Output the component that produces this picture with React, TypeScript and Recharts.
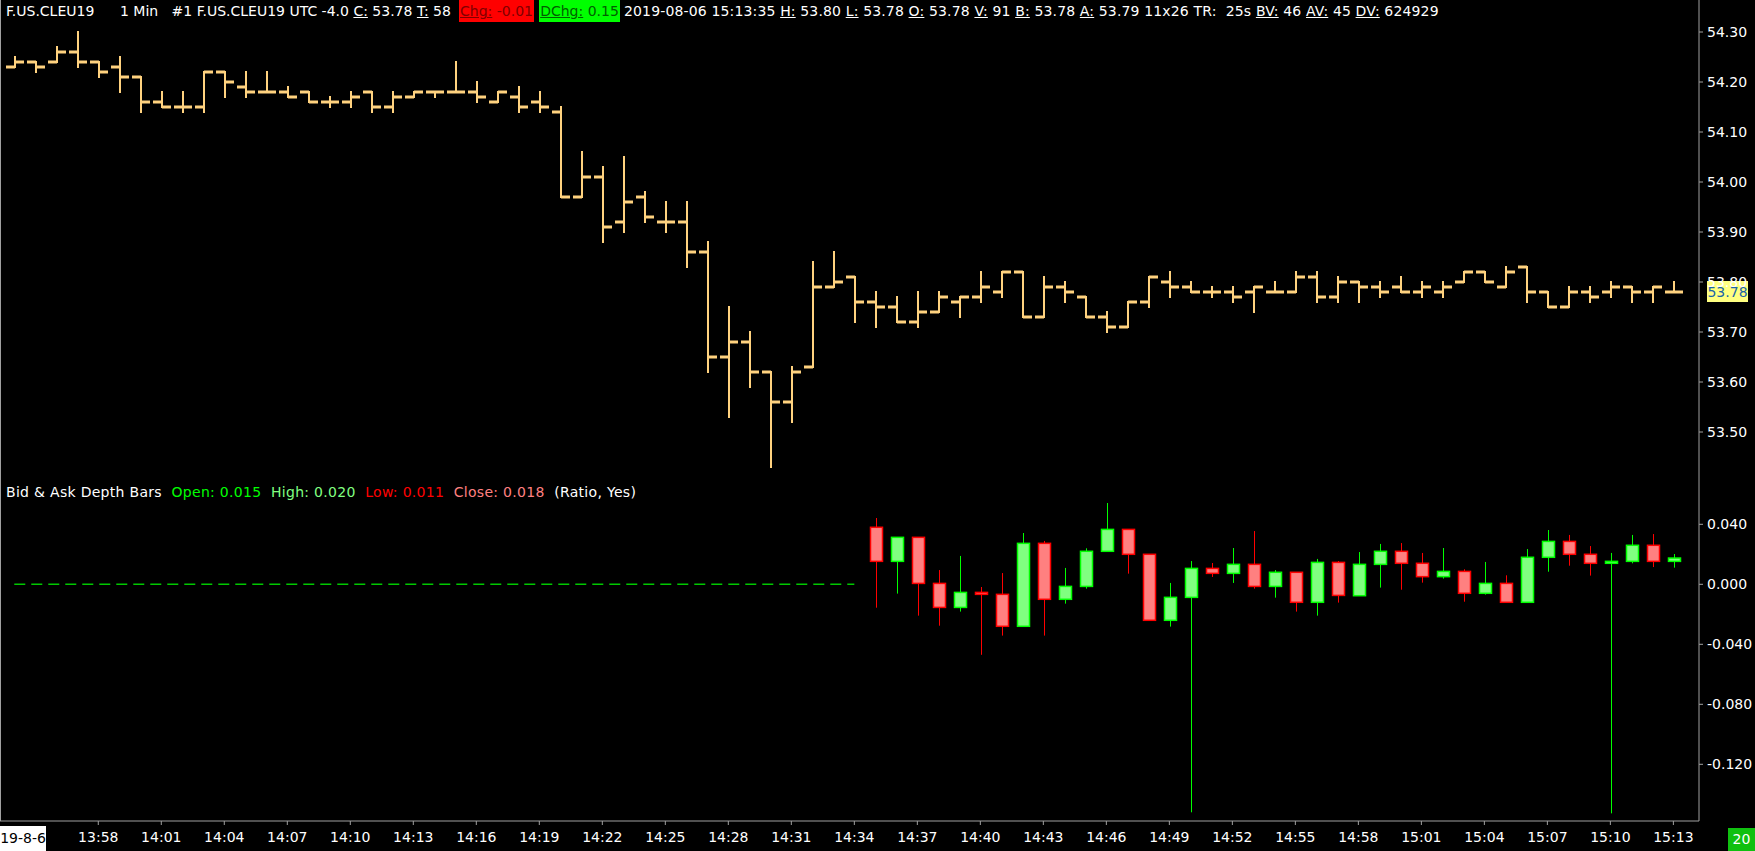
import { ComposedChart, Bar, Line, XAxis, YAxis, ReferenceLine } from 'recharts'

const FONT = '"DejaVu Sans", Verdana, sans-serif'
const AXIS = '#a0a0a0'
const PRICE = '#ffd27f'

// one bar per minute, 13:54 .. 15:13
const tickIndex = [4, 7, 10, 13, 16, 19, 22, 25, 28, 31, 34, 37, 40, 43, 46, 49, 52, 55, 58, 61, 64, 67, 70, 73, 76, 79]
const tickLabels = [
  '13:58', '14:01', '14:04', '14:07', '14:10', '14:13', '14:16', '14:19', '14:22', '14:25', '14:28', '14:31', '14:34',
  '14:37', '14:40', '14:43', '14:46', '14:49', '14:52', '14:55', '14:58', '15:01', '15:04', '15:07', '15:10', '15:13',
]

const priceOpen = [
  54.23, 54.24, 54.24, 54.26, 54.24, 54.23, 54.21, 54.16, 54.15, 54.15,
  54.22, 54.19, 54.18, 54.18, 54.18, 54.16, 54.16, 54.18, 54.15, 54.17,
  54.18, 54.18, 54.18, 54.16, 54.17, 54.16, 54.14, 53.97, 54.01, 53.92,
  53.97, 53.92, 53.92, 53.86, 53.65, 53.68, 53.62, 53.56, 53.63, 53.79,
  53.81, 53.76, 53.75, 53.72, 53.74, 53.76, 53.77, 53.78, 53.82, 53.73,
  53.79, 53.77, 53.73, 53.71, 53.76, 53.80, 53.79, 53.78, 53.78, 53.78,
  53.78, 53.78, 53.81, 53.77, 53.80, 53.79, 53.79, 53.78, 53.78, 53.80,
  53.82, 53.79, 53.83, 53.78, 53.75, 53.78, 53.78, 53.79, 53.78, 53.78,
]
const priceHigh = [
  54.25, 54.24, 54.27, 54.30, 54.24, 54.25, 54.21, 54.18, 54.18, 54.22,
  54.22, 54.22, 54.22, 54.19, 54.18, 54.17, 54.18, 54.18, 54.18, 54.18,
  54.18, 54.24, 54.20, 54.18, 54.19, 54.18, 54.15, 54.06, 54.03, 54.05,
  53.98, 53.96, 53.96, 53.88, 53.75, 53.70, 53.62, 53.63, 53.84, 53.86,
  53.81, 53.78, 53.77, 53.78, 53.78, 53.77, 53.82, 53.82, 53.82, 53.81,
  53.80, 53.77, 53.74, 53.76, 53.81, 53.82, 53.80, 53.79, 53.79, 53.79,
  53.80, 53.82, 53.82, 53.81, 53.80, 53.80, 53.81, 53.80, 53.80, 53.82,
  53.82, 53.83, 53.83, 53.78, 53.79, 53.79, 53.80, 53.79, 53.79, 53.80,
]
const priceLow = [
  54.23, 54.22, 54.24, 54.23, 54.21, 54.18, 54.14, 54.15, 54.14, 54.14,
  54.17, 54.17, 54.18, 54.17, 54.16, 54.15, 54.15, 54.14, 54.14, 54.17,
  54.17, 54.18, 54.16, 54.16, 54.14, 54.14, 53.97, 53.97, 53.88, 53.90,
  53.92, 53.90, 53.83, 53.62, 53.53, 53.59, 53.43, 53.52, 53.63, 53.79,
  53.72, 53.71, 53.72, 53.71, 53.74, 53.73, 53.76, 53.77, 53.73, 53.73,
  53.76, 53.73, 53.70, 53.71, 53.75, 53.77, 53.78, 53.77, 53.76, 53.74,
  53.78, 53.78, 53.76, 53.76, 53.76, 53.77, 53.78, 53.77, 53.77, 53.80,
  53.80, 53.79, 53.76, 53.75, 53.75, 53.76, 53.77, 53.76, 53.76, 53.78,
]
const priceClose = [
  54.24, 54.23, 54.26, 54.24, 54.22, 54.21, 54.16, 54.15, 54.15, 54.22,
  54.20, 54.18, 54.18, 54.17, 54.16, 54.16, 54.17, 54.15, 54.17, 54.18,
  54.18, 54.18, 54.17, 54.18, 54.15, 54.15, 53.97, 54.01, 53.91, 53.96,
  53.93, 53.92, 53.86, 53.65, 53.68, 53.62, 53.56, 53.62, 53.79, 53.80,
  53.76, 53.75, 53.72, 53.74, 53.77, 53.77, 53.79, 53.82, 53.73, 53.79,
  53.78, 53.73, 53.71, 53.76, 53.81, 53.79, 53.78, 53.78, 53.77, 53.79,
  53.78, 53.81, 53.77, 53.80, 53.79, 53.78, 53.78, 53.79, 53.79, 53.82,
  53.80, 53.82, 53.78, 53.75, 53.78, 53.77, 53.79, 53.78, 53.79, 53.78,
]

// depth bars start at 14:35 (index 41)
const depthStart = 41
const depthOpen = [
  0.038, 0.0153, 0.0313, 0.0006, -0.0154, -0.0054, -0.0067, -0.028, 0.0273, -0.01,
  -0.0014, 0.022, 0.0366, 0.02, -0.024, -0.0087, 0.0106, 0.0073, 0.0133, -0.0014,
  0.008, -0.012, 0.0146, -0.0076, 0.0133, 0.022, 0.014, 0.0051, 0.0086, -0.006,
  0.0006, -0.012, 0.018, 0.0286, 0.02, 0.014, 0.0153, 0.026, 0.0153,
]
const depthHigh = [
  0.0442, 0.0313, 0.0313, 0.0095, 0.0189, -0.0018, 0.0075, 0.0342, 0.0289, 0.0109,
  0.024, 0.0542, 0.0366, 0.02, 0.0009, 0.0155, 0.0142, 0.0242, 0.0355, 0.0095,
  0.008, 0.0169, 0.0155, 0.0215, 0.0269, 0.0275, 0.0209, 0.0242, 0.01, 0.0149,
  0.006, 0.0235, 0.0362, 0.0329, 0.0255, 0.0209, 0.0329, 0.0335, 0.0202,
]
const depthLow = [
  -0.0156, -0.0062, -0.0209, -0.0276, -0.0182, -0.047, -0.0342, -0.028, -0.0342, -0.0129,
  -0.0029, 0.022, 0.0071, -0.024, -0.0282, -0.152, 0.0049, 0.0009, -0.0029, -0.0089,
  -0.0182, -0.0209, -0.0122, -0.0076, -0.0022, -0.0036, 0.0011, 0.0038, -0.0116, -0.0069,
  -0.012, -0.012, 0.0084, 0.0124, 0.0058, -0.1527, 0.014, 0.0115, 0.0111,
]
const depthClose = [
  0.0153, 0.0313, 0.0006, -0.0154, -0.0054, -0.0067, -0.028, 0.0273, -0.01, -0.0014,
  0.022, 0.0366, 0.02, -0.024, -0.0087, 0.0106, 0.0073, 0.0133, -0.0014, 0.008,
  -0.012, 0.0146, -0.0074, 0.0133, 0.022, 0.014, 0.0051, 0.0086, -0.006, 0.0006,
  -0.012, 0.018, 0.0286, 0.02, 0.014, 0.0153, 0.026, 0.0153, 0.0175,
]

const priceTicks = [53.5, 53.6, 53.7, 53.8, 53.9, 54.0, 54.1, 54.2, 54.3]
const depthTicks = [0.04, 0, -0.04, -0.08, -0.12]
const lastClose = priceClose[priceClose.length - 1]

const priceData = priceOpen.map((o, i) => ({ i, o, h: priceHigh[i], l: priceLow[i], c: priceClose[i] }))

const depthData = priceOpen.map((_, i) => {
  const k = i - depthStart
  if (k < 0) return { i, zero: 0 }
  return { i, zero: null, o: depthOpen[k], h: depthHigh[k], l: depthLow[k], c: depthClose[k] }
})

const xDomain = [-0.68, 80.22]

function spanOf(props: any) {
  const { x, y, width, height, payload } = props
  if (payload == null || payload.h == null || height == null) return null
  const cx = Math.round(x + width / 2)
  const top = height >= 0 ? y : y + height
  const span = Math.abs(height)
  const range = payload.h - payload.l
  const k = range > 0 ? span / range : 0
  return {
    cx,
    top,
    span,
    yo: top + (payload.h - payload.o) * k,
    yc: top + (payload.h - payload.c) * k,
    up: payload.c >= payload.o,
  }
}

function OhlcShape(props: any) {
  const s = spanOf(props)
  if (!s) return null
  return (
    <g fill={PRICE}>
      <rect x={s.cx - 1} y={s.top - 1} width={2} height={s.span + 2} />
      <rect x={s.cx - 9} y={s.yo - 1.5} width={9} height={3} />
      <rect x={s.cx} y={s.yc - 1.5} width={9} height={3} />
    </g>
  )
}

function CandleShape(props: any) {
  const s = spanOf(props)
  if (!s) return null
  const stroke = s.up ? '#00ff00' : '#ff0000'
  const fill = s.up ? '#80ff80' : '#ff8080'
  const bodyTop = Math.min(s.yo, s.yc)
  const bodyH = Math.max(Math.abs(s.yo - s.yc), 1)
  return (
    <g>
      <line x1={s.cx + 0.5} x2={s.cx + 0.5} y1={s.top} y2={s.top + s.span} stroke={stroke} strokeWidth={1} />
      <rect x={s.cx - 5.5} y={bodyTop} width={12} height={bodyH} fill={fill} stroke={stroke} strokeWidth={1.5} />
    </g>
  )
}

function PriceTag(props: any) {
  const vb = props.viewBox
  if (!vb) return null
  const x = vb.x + vb.width + 8
  const y = vb.y
  return (
    <g>
      <rect x={x} y={y - 11} width={41} height={21} fill="#ffff80" />
      <text x={x + 20.5} y={y} dy="0.36em" textAnchor="middle" fill="#1a64a8" fontSize={14} fontFamily={FONT}>
        {lastClose.toFixed(2)}
      </text>
    </g>
  )
}

const tickStyle = { fill: '#ffffff', fontSize: 14, fontFamily: FONT }
const u = { textDecoration: 'underline' }
const strip = { position: 'absolute' as const, top: 0, height: 22, lineHeight: '22px', whiteSpace: 'pre' as const }

export default function App() {
  return (
    <div
      style={{
        position: 'absolute',
        left: 0,
        top: 0,
        width: 1755,
        height: 851,
        background: '#000',
        fontFamily: FONT,
        fontSize: 14,
        color: '#fff',
        overflow: 'hidden',
      }}
    >
      <div style={{ position: 'absolute', left: 0, top: 0, width: 1, height: 821, background: AXIS }} />

      <div style={{ position: 'absolute', left: 0, top: 0 }}>
        <ComposedChart width={1755} height={482} data={priceData} margin={{ top: 0, right: 0, bottom: 0, left: 0 }}>
          <XAxis dataKey="i" type="number" domain={xDomain} hide allowDataOverflow />
          <YAxis
            orientation="right"
            width={56}
            domain={[53.4, 54.364]}
            ticks={priceTicks}
            allowDataOverflow
            interval={0}
            tickFormatter={(v: number) => v.toFixed(2)}
            tick={tickStyle}
            tickSize={4}
            tickMargin={4}
            stroke={AXIS}
          />
          <Bar dataKey={(d: any) => [d.l, d.h]} barSize={18} shape={OhlcShape} isAnimationActive={false} />
          <ReferenceLine y={lastClose} stroke="none" label={PriceTag} />
        </ComposedChart>
      </div>

      <div style={{ position: 'absolute', left: 0, top: 482 }}>
        <ComposedChart width={1755} height={369} data={depthData} margin={{ top: 0, right: 0, bottom: 0, left: 0 }}>
          <XAxis
            dataKey="i"
            type="number"
            domain={xDomain}
            allowDataOverflow
            ticks={tickIndex}
            interval={0}
            tickFormatter={(v: number) => tickLabels[tickIndex.indexOf(v)] ?? ''}
            tick={tickStyle}
            tickSize={4}
            tickMargin={7}
            height={30}
            stroke={AXIS}
          />
          <YAxis
            orientation="right"
            width={56}
            domain={[-0.1578, 0.0682]}
            ticks={depthTicks}
            allowDataOverflow
            interval={0}
            tickFormatter={(v: number) => v.toFixed(3)}
            tick={tickStyle}
            tickSize={4}
            tickMargin={4}
            stroke={AXIS}
          />
          <Line
            dataKey="zero"
            stroke="#00c800"
            strokeWidth={1.5}
            strokeDasharray="11 6"
            dot={false}
            connectNulls={false}
            isAnimationActive={false}
          />
          <Bar
            dataKey={(d: any) => (d.h == null ? null : [d.l, d.h])}
            barSize={14}
            shape={CandleShape}
            isAnimationActive={false}
          />
        </ComposedChart>
      </div>

      <div style={{ ...strip, left: 6 }}>F.US.CLEU19</div>
      <div style={{ ...strip, left: 120 }}>
        {'1 Min   #1 F.US.CLEU19 UTC -4.0 '}
        <span style={u}>C:</span>
        {' 53.78 '}
        <span style={u}>T:</span>
        {' 58'}
      </div>
      <div style={{ ...strip, left: 459, width: 75, background: '#ff0000', color: '#800000', textAlign: 'center' }}>
        <span style={u}>Chg:</span>
        {' -0.01'}
      </div>
      <div style={{ ...strip, left: 539, width: 81, background: '#00ff00', color: '#006000', textAlign: 'center' }}>
        <span style={u}>DChg:</span>
        {' 0.15'}
      </div>
      <div style={{ ...strip, left: 624, letterSpacing: 0.15 }}>
        {'2019-08-06 15:13:35 '}
        <span style={u}>H:</span>
        {' 53.80 '}
        <span style={u}>L:</span>
        {' 53.78 '}
        <span style={u}>O:</span>
        {' 53.78 '}
        <span style={u}>V:</span>
        {' 91 '}
        <span style={u}>B:</span>
        {' 53.78 '}
        <span style={u}>A:</span>
        {' 53.79 11x26 TR:  25s '}
        <span style={u}>BV:</span>
        {' 46 '}
        <span style={u}>AV:</span>
        {' 45 '}
        <span style={u}>DV:</span>
        {' 624929'}
      </div>

      <div style={{ position: 'absolute', left: 6, top: 482, lineHeight: '20px', whiteSpace: 'pre', letterSpacing: 0.3 }}>
        <span>{'Bid & Ask Depth Bars  '}</span>
        <span style={{ color: '#00ff00' }}>{'Open: 0.015  '}</span>
        <span style={{ color: '#80ff80' }}>{'High: 0.020  '}</span>
        <span style={{ color: '#ff0000' }}>{'Low: 0.011  '}</span>
        <span style={{ color: '#ff8080' }}>{'Close: 0.018  '}</span>
        <span>{'(Ratio, Yes)'}</span>
      </div>

      <div
        style={{
          position: 'absolute',
          left: 0,
          top: 826,
          width: 46,
          height: 25,
          background: '#fff',
          color: '#000',
          lineHeight: '25px',
          textAlign: 'center',
        }}
      >
        19-8-6
      </div>
      <div
        style={{
          position: 'absolute',
          left: 1728,
          top: 828,
          width: 27,
          height: 23,
          background: '#10c010',
          color: '#fff',
          lineHeight: '23px',
          textAlign: 'center',
        }}
      >
        20
      </div>
    </div>
  )
}
